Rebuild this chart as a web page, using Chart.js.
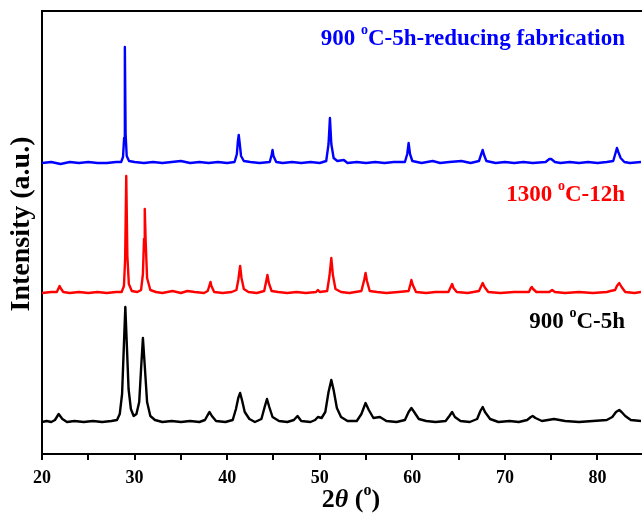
<!DOCTYPE html>
<html>
<head>
<meta charset="utf-8">
<script src="https://cdn.jsdelivr.net/npm/chart.js@4.4.0/dist/chart.umd.min.js"></script>
<style>
  html, body { margin: 0; padding: 0; background: #fff; }
  #wrap { width: 642px; height: 515px; }
</style>
</head>
<body>
<div id="wrap"><canvas id="myChart"></canvas></div>
<script>
// 2theta tick positions (labels only on the tens)
const xTicks = [20, 25, 30, 35, 40, 45, 50, 55, 60, 65, 70, 75, 80];

// [2theta, intensity], stacked offsets included
// 900 oC-5h-reducing fabrication (blue, top)
const bluePattern = [
  [20, 291], [21, 292], [22, 290], [23, 292], [24, 291], [25, 292], [26, 291], [27, 291], [28, 292],
  [28.55, 292], [28.75, 297], [28.87, 316], [28.95, 407], [29.03, 320], [29.15, 298], [29.4, 293],
  [30, 292], [31, 291], [32, 292], [33, 291], [34, 292], [35, 293], [36, 291], [37, 292], [38, 291],
  [39, 292], [40, 291], [40.8, 292], [41.05, 300], [41.15, 312], [41.25, 319], [41.35, 311], [41.5, 298],
  [41.8, 293], [42.5, 292], [43.5, 291], [44.6, 292], [44.8, 299], [44.9, 304], [45.0, 298], [45.3, 292],
  [46, 291], [47, 292], [48, 291], [49, 292], [50, 291], [50.7, 293], [50.95, 310], [51.1, 336],
  [51.25, 310], [51.5, 296], [51.9, 293], [52.6, 294], [53, 291], [54, 292], [55, 291], [56, 292],
  [57, 291], [58, 292], [59.2, 292], [59.45, 300], [59.6, 311], [59.75, 300], [60.0, 293], [61, 291],
  [62.2, 293], [63, 291], [64, 292], [65.3, 293], [66.3, 291], [67.2, 293], [67.45, 300], [67.6, 304],
  [67.75, 299], [68.0, 293], [69, 291], [70, 292], [71, 291], [72, 292], [73, 291], [74.4, 292],
  [74.8, 295], [75.0, 295], [75.4, 292], [76, 291], [77, 292], [78, 291], [79, 292], [80, 291],
  [81, 292], [81.7, 293], [81.95, 301], [82.1, 306], [82.25, 302], [82.5, 296], [82.9, 292],
  [83.5, 291], [84.7, 292]
];

// 1300 oC-12h (red, middle)
const redPattern = [
  [20, 161], [21, 162], [21.6, 162], [21.8, 166], [21.9, 168], [22.0, 166], [22.3, 162], [23, 161],
  [24, 162], [25, 161], [26, 162], [27, 161], [28, 162], [28.6, 162], [28.85, 168], [28.98, 195],
  [29.1, 278], [29.22, 198], [29.38, 170], [29.7, 163], [30.3, 162], [30.7, 164], [30.9, 180],
  [31.02, 215], [31.1, 245], [31.2, 212], [31.35, 176], [31.7, 164], [32.3, 162], [33, 161],
  [34.1, 163], [35, 161], [35.7, 163], [36.5, 162], [37.5, 161], [37.9, 163], [38.1, 169], [38.2, 172],
  [38.3, 168], [38.6, 162], [39.5, 161], [40.5, 162], [41.0, 164], [41.2, 174], [41.4, 188],
  [41.55, 176], [41.8, 165], [42.3, 162], [43.2, 161], [44.0, 163], [44.2, 172], [44.35, 179],
  [44.5, 171], [44.8, 163], [45.5, 162], [46.5, 161], [47.5, 162], [48.5, 161], [49.6, 162],
  [49.8, 164], [50.0, 162], [50.8, 163], [51.05, 178], [51.25, 196], [51.42, 179], [51.7, 165],
  [52.3, 162], [53.2, 161], [54.5, 163], [54.8, 174], [54.95, 181], [55.1, 173], [55.4, 163],
  [56.2, 162], [57.2, 161], [58.5, 162], [59.6, 163], [59.8, 170], [59.9, 174], [60.05, 169],
  [60.4, 162], [61.5, 161], [62.5, 162], [63.9, 162], [64.15, 167], [64.3, 170], [64.45, 166],
  [64.8, 162], [66, 161], [67.2, 163], [67.45, 168], [67.6, 171], [67.8, 167], [68.2, 162],
  [69.5, 161], [71, 162], [72.6, 162], [72.8, 166], [72.9, 167], [73.05, 165], [73.4, 162],
  [74.8, 162], [75.1, 164], [75.4, 162], [76.5, 161], [78, 162], [79.5, 161], [81.0, 162],
  [81.4, 163], [81.9, 164], [82.1, 168], [82.35, 171], [82.6, 167], [83, 162], [84, 161], [84.7, 162]
];

// 900 oC-5h (black, bottom)
const blackPattern = [
  [20, 32], [20.5, 33], [21, 32], [21.4, 34], [21.8, 40], [22.2, 35], [22.7, 32], [23.5, 33],
  [24.5, 32], [25.5, 33], [26.5, 32], [27.5, 33], [28.1, 34], [28.4, 40], [28.65, 60], [28.85, 110],
  [29.0, 147], [29.15, 112], [29.35, 65], [29.6, 45], [29.9, 38], [30.2, 40], [30.5, 52], [30.7, 85],
  [30.9, 116], [31.1, 88], [31.35, 52], [31.7, 38], [32.2, 34], [33, 32], [34, 33], [35, 32],
  [36, 33], [37, 32], [37.6, 34], [37.9, 39], [38.1, 42], [38.35, 38], [38.8, 33], [39.8, 32],
  [40.6, 34], [40.95, 45], [41.2, 56], [41.4, 61], [41.6, 54], [41.9, 42], [42.4, 35], [43.0, 32],
  [43.7, 35], [44.05, 47], [44.3, 55], [44.55, 47], [44.9, 37], [45.6, 33], [46.5, 32], [47.2, 34],
  [47.6, 38], [48, 33], [49, 32], [49.5, 34], [49.8, 37], [50.2, 36], [50.6, 42], [50.95, 62],
  [51.25, 74], [51.5, 64], [51.85, 46], [52.3, 37], [53, 33], [54, 33], [54.5, 40], [54.95, 51],
  [55.3, 44], [55.8, 36], [56.5, 37], [57.2, 33], [58.3, 32], [59.2, 34], [59.6, 42], [59.9, 46],
  [60.2, 42], [60.7, 35], [61.5, 33], [62.5, 32], [63.6, 33], [64.0, 38], [64.3, 42], [64.6, 37],
  [65.2, 33], [66.2, 32], [67.0, 35], [67.35, 43], [67.6, 47], [67.85, 42], [68.4, 35], [69.3, 32],
  [70.5, 33], [71.5, 32], [72.4, 34], [72.8, 37], [73.0, 38], [73.3, 36], [74, 33], [75.3, 35],
  [76.5, 33], [78, 32], [79.5, 33], [81.0, 34], [81.6, 37], [82.0, 42], [82.35, 44], [82.6, 42],
  [83.0, 38], [83.6, 34], [84.7, 33]
];

function toPoints(pairs) {
  return pairs.map(p => ({ x: p[0], y: p[1] }));
}

const SERIF = "'Liberation Serif', 'Times New Roman', serif";

// text drawn with a raised small "o" (degree sign as in the original)
function drawSup(ctx, pre, sup, post, xRight, y, size, color) {
  ctx.save();
  ctx.fillStyle = color;
  ctx.textBaseline = 'middle';
  ctx.textAlign = 'left';
  const big = 'bold ' + size + 'px ' + SERIF;
  const small = 'bold ' + Math.round(size * 0.62) + 'px ' + SERIF;
  ctx.font = big;
  const w1 = ctx.measureText(pre).width;
  const w3 = ctx.measureText(post).width;
  ctx.font = small;
  const w2 = ctx.measureText(sup).width;
  let x = xRight - (w1 + w2 + w3);
  ctx.font = big;
  ctx.fillText(pre, x, y);
  x += w1;
  ctx.font = small;
  ctx.fillText(sup, x, y - size * 0.36);
  x += w2;
  ctx.font = big;
  ctx.fillText(post, x, y);
  ctx.restore();
}

const textPlugin = {
  id: 'xrdText',
  afterDraw(chart) {
    const ctx = chart.ctx;
    const a = chart.chartArea;

    // top frame line
    ctx.save();
    ctx.strokeStyle = '#000';
    ctx.lineWidth = 2;
    ctx.beginPath();
    ctx.moveTo(a.left - 1, a.top);
    ctx.lineTo(chart.width, a.top);
    ctx.stroke();
    ctx.restore();

    drawSup(ctx, '900 ', 'o', 'C-5h-reducing fabrication', 625, 39, 23, '#0000ff');
    drawSup(ctx, '1300 ', 'o', 'C-12h', 625, 195, 23, '#ff0000');
    drawSup(ctx, '900 ', 'o', 'C-5h', 625, 322, 23, '#000000');

    // x axis title: 2θ (º)
    ctx.save();
    ctx.fillStyle = '#000';
    ctx.textBaseline = 'middle';
    const sz = 26;
    const parts = [
      { t: '2', f: 'bold ' + sz + 'px ' + SERIF, dy: 0 },
      { t: 'θ', f: 'italic bold ' + sz + 'px ' + SERIF, dy: 0 },
      { t: ' (', f: 'bold ' + sz + 'px ' + SERIF, dy: 0 },
      { t: 'o', f: 'bold ' + Math.round(sz * 0.62) + 'px ' + SERIF, dy: -sz * 0.36 },
      { t: ')', f: 'bold ' + sz + 'px ' + SERIF, dy: 0 }
    ];
    let total = 0;
    parts.forEach(p => { ctx.font = p.f; p.w = ctx.measureText(p.t).width; total += p.w; });
    let x = 351 - total / 2;
    parts.forEach(p => { ctx.font = p.f; ctx.fillText(p.t, x, 500 + p.dy); x += p.w; });

    // y axis title
    ctx.translate(22, 224);
    ctx.rotate(-Math.PI / 2);
    ctx.textAlign = 'center';
    ctx.font = 'bold 28px ' + SERIF;
    ctx.fillText('Intensity (a.u.)', 0, 0);
    ctx.restore();
  }
};

function loadXrdChart() {
  const ctx = document.getElementById('myChart').getContext('2d');

  const lineStyle = { borderWidth: 2.4, pointRadius: 0, tension: 0, fill: false, borderJoinStyle: 'round' };

  new Chart(ctx, {
    type: 'line',
    data: {
      datasets: [
        Object.assign({ label: '900 oC-5h-reducing fabrication', data: toPoints(bluePattern), borderColor: '#0000ff' }, lineStyle),
        Object.assign({ label: '1300 oC-12h', data: toPoints(redPattern), borderColor: '#ff0000' }, lineStyle),
        Object.assign({ label: '900 oC-5h', data: toPoints(blackPattern), borderColor: '#000000' }, lineStyle)
      ]
    },
    options: {
      responsive: true,
      maintainAspectRatio: false,
      animation: false,
      layout: { padding: { top: 11, right: 1, left: 0, bottom: 0 } },
      plugins: { legend: { display: false }, tooltip: { enabled: false } },
      scales: {
        x: {
          type: 'linear',
          min: 20,
          max: 84.7,
          afterBuildTicks: s => { s.ticks = xTicks.map(v => ({ value: v })); },
          afterFit: s => { s.height = 61; },
          grid: { display: true, drawOnChartArea: false, drawTicks: true, tickLength: 6, color: '#000', lineWidth: 2 },
          border: { display: true, color: '#000', width: 2 },
          ticks: {
            color: '#000',
            padding: 8,
            maxRotation: 0,
            autoSkip: false,
            font: { family: SERIF, size: 18, weight: 'bold' },
            callback: v => (v % 10 === 0 ? String(v) : '')
          }
        },
        y: {
          min: 0,
          max: 443,
          afterFit: s => { s.width = 42; },
          grid: { display: false },
          border: { display: true, color: '#000', width: 2 },
          ticks: { display: false }
        }
      }
    },
    plugins: [textPlugin]
  });
}
document.addEventListener('DOMContentLoaded', loadXrdChart);
</script>
</body>
</html>
